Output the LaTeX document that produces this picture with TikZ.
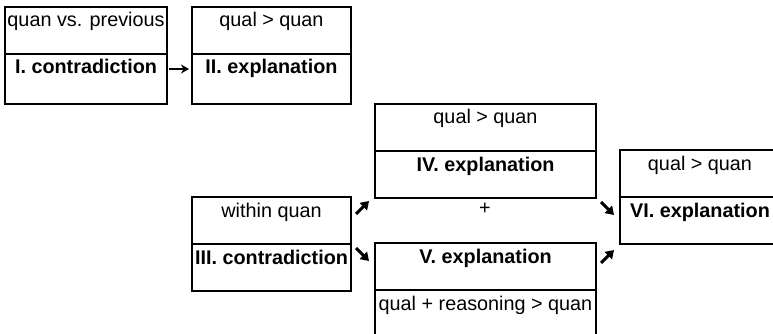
\documentclass[tikz,border=0pt]{standalone}
\usepackage{fontspec}
\setmainfont{Liberation Sans}
\usetikzlibrary{positioning,arrows.meta}

\begin{document}
\begin{tikzpicture}[
    x=1pt, y=-1pt,
    every node/.style={font=\fontsize{19.8pt}{24pt}\selectfont},
    cell/.style={
        rectangle,
        draw,
        line width=1.8pt,
        minimum width=#1,
        minimum height=47pt,
        inner sep=0pt,
        outer sep=0pt,
        text height=20pt,
        text depth=27pt,
        anchor=north west
    },
    cell/.default=160pt,
    title/.style={
        cell=#1,
        font=\fontsize{19.8pt}{24pt}\selectfont\bfseries
    },
    title/.default=160pt,
    arrow/.style={
        -{Stealth[length=8pt,width=9pt]},
        line width=1.5pt
    },
    diag/.style={
        -{Triangle[length=8pt,width=10pt]},
        line width=3pt
    }
]

\useasboundingbox (0,0) rectangle (773,334);
\clip (0,0) rectangle (773,334);

% first row
\node[cell=162pt] (itop) at (5,7) {quan vs. previous};
\node[title=162pt, text depth=30pt, below=0pt of itop] (ibot) {I. contradiction};

\node[cell=159pt] (iitop) at (192,7) {qual > quan};
\node[title=159pt, text depth=30pt, below=0pt of iitop] (iibot) {II. explanation};

% second block
\node[cell=159pt] (iiitop) at (192,197) {within quan};
\node[title=159pt, below=0pt of iiitop] (iiibot) {III. contradiction};

\node[cell=221pt] (ivtop) at (375,104) {qual > quan};
\node[title=221pt, below=0pt of ivtop] (ivbot) {IV. explanation};

\node (plus) at (485,209) {+};

\node[title=221pt] (vtop) at (375,243) {V. explanation};
\node[cell=221pt, below=0pt of vtop] (vbot) {qual + reasoning > quan};

\node[cell=160pt] (vitop) at (620,150) {qual > quan};
\node[title=160pt, below=0pt of vitop] (vibot) {VI. explanation};

% arrows
\coordinate (ai) at (169,69);
\coordinate (aii) at (189,69);
\draw[arrow] (ai) -- (aii);

\coordinate (upa) at (356,214);
\coordinate (upb) at (369,201);
\draw[diag] (upa) -- (upb);

\coordinate (dna) at (356,248);
\coordinate (dnb) at (369,261);
\draw[diag] (dna) -- (dnb);

\coordinate (rdna) at (601,202);
\coordinate (rdnb) at (614,215);
\draw[diag] (rdna) -- (rdnb);

\coordinate (rupa) at (601,263);
\coordinate (rupb) at (614,250);
\draw[diag] (rupa) -- (rupb);

\end{tikzpicture}
\end{document}
